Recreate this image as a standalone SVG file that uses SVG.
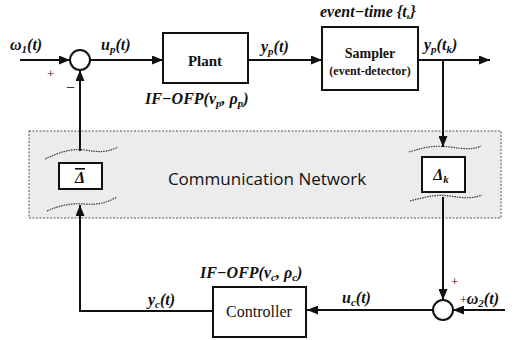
<svg xmlns="http://www.w3.org/2000/svg" width="518" height="340" viewBox="0 0 518 340">
<style>
.ln{stroke:#111;stroke-width:2;fill:none}
.box{stroke:#111;stroke-width:2;fill:#fff}
.wave{stroke:#333;stroke-width:1.2;fill:none;stroke-dasharray:1.5,1}
.m{font-weight:bold;font-style:italic;font-size:16px;fill:#111}
.s{font-size:11px}
.b{font-weight:bold;fill:#111;text-anchor:middle}
.r{fill:#111}
</style>
<defs>
<marker id="ah" markerWidth="11" markerHeight="9" refX="11" refY="4.5" orient="auto" markerUnits="userSpaceOnUse"><path d="M0,0 L11,4.5 L0,9 z" fill="#111"/></marker>
</defs>
<g id="network">
<rect x="29" y="131" width="472" height="87" fill="#ececec" stroke="#555" stroke-width="1" stroke-dasharray="2,1.5"/>
<text x="267" y="185" font-family="Open Sans, DejaVu Sans, sans-serif" font-size="17" text-anchor="middle" fill="#111">Communication Network</text>
<path class="wave" d="M45,159 C60,152 72,148 85,150 C98,152 106,153 118,147"/>
<path class="wave" d="M47,211 C60,205 72,203 84,204 C98,205 106,203 117,197"/>
<path class="wave" d="M409,152 C425,147 435,145 450,147 C465,149 472,150 481,146"/>
<path class="wave" d="M410,201 C425,197 436,194 450,196 C463,198 472,199 482,195"/>
</g>
<g id="connectors">
<path class="ln" d="M20,60 H70" marker-end="url(#ah)"/>
<path class="ln" d="M90,60 H163" marker-end="url(#ah)"/>
<path class="ln" d="M248,60 H322" marker-end="url(#ah)"/>
<path class="ln" d="M418,60 H490" marker-end="url(#ah)"/>
<path class="ln" d="M443,60 V147" marker-end="url(#ah)"/>
<path class="ln" d="M443,197 V300" marker-end="url(#ah)"/>
<path class="ln" d="M505,310 H453" marker-end="url(#ah)"/>
<path class="ln" d="M433,310 H307" marker-end="url(#ah)"/>
<path class="ln" d="M213,311 H80 V205" marker-end="url(#ah)"/>
<path class="ln" d="M80,151 V70" marker-end="url(#ah)"/>
</g>
<g id="sum1"><circle cx="80" cy="60" r="10" class="box"/></g>
<g id="sum2"><circle cx="443" cy="310" r="10" class="box"/></g>
<g font-family="Liberation Serif, Times New Roman, DejaVu Serif, Noto Serif, serif">
<g id="plant">
<rect x="163" y="33" width="85" height="50" class="box"/>
<text x="205" y="66" class="b" font-size="15">Plant</text>
</g>
<g id="sampler">
<rect x="322" y="27" width="96" height="63" class="box"/>
<text x="370" y="58" class="b" font-size="14">Sampler</text>
<text x="370" y="75" class="b" font-size="12">(event-detector)</text>
</g>
<g id="delta-bar">
<rect x="59" y="163" width="43" height="26" class="box" stroke-width="1.5"/>
<text x="80" y="183" class="m" text-anchor="middle" text-decoration="overline">Δ</text>
</g>
<g id="delta-k">
<rect x="422" y="157" width="43" height="35" class="box" stroke-width="1.5"/>
<text x="441" y="180" class="m" text-anchor="middle">Δ<tspan class="s" dy="3">k</tspan></text>
</g>
<g id="controller">
<rect x="213" y="287" width="93" height="50" class="box"/>
<text x="259" y="317" class="r" font-size="16" text-anchor="middle">Controller</text>
</g>
<g id="labels">
<text x="10" y="50" class="m">ω<tspan class="s" dy="3">1</tspan><tspan dy="-3">(t)</tspan></text>
<text x="47" y="78" class="r" font-size="13">+</text>
<text x="66" y="93" class="r" font-size="16">−</text>
<text x="101" y="50" class="m">u<tspan class="s" dy="3">p</tspan><tspan dy="-3">(t)</tspan></text>
<text x="145" y="104" class="m">IF−OFP(ν<tspan class="s" dy="3">p</tspan><tspan dy="-3">, ρ</tspan><tspan class="s" dy="3">p</tspan><tspan dy="-3">)</tspan></text>
<text x="261" y="52" class="m">y<tspan class="s" dy="3">p</tspan><tspan dy="-3">(t)</tspan></text>
<text x="320" y="17" class="m" font-size="10">event−time {t<tspan font-size="7" dy="2">k</tspan><tspan dy="-2">}</tspan></text>
<text x="424" y="50" class="m">y<tspan class="s" dy="3">p</tspan><tspan dy="-3">(t</tspan><tspan class="s" dy="3">k</tspan><tspan dy="-3">)</tspan></text>
<text x="200" y="278" class="m">IF−OFP(ν<tspan class="s" dy="3">c</tspan><tspan dy="-3">, ρ</tspan><tspan class="s" dy="3">c</tspan><tspan dy="-3">)</tspan></text>
<text x="148" y="305" class="m">y<tspan class="s" dy="3">c</tspan><tspan dy="-3">(t)</tspan></text>
<text x="342" y="303" class="m">u<tspan class="s" dy="3">c</tspan><tspan dy="-3">(t)</tspan></text>
<text x="451" y="286" class="r" font-size="13">+</text>
<text x="460" y="304" class="m"><tspan font-size="12" font-weight="normal" font-style="normal">+</tspan>ω<tspan class="s" dy="3">2</tspan><tspan dy="-3">(t)</tspan></text>
</g>
</g>
</svg>
